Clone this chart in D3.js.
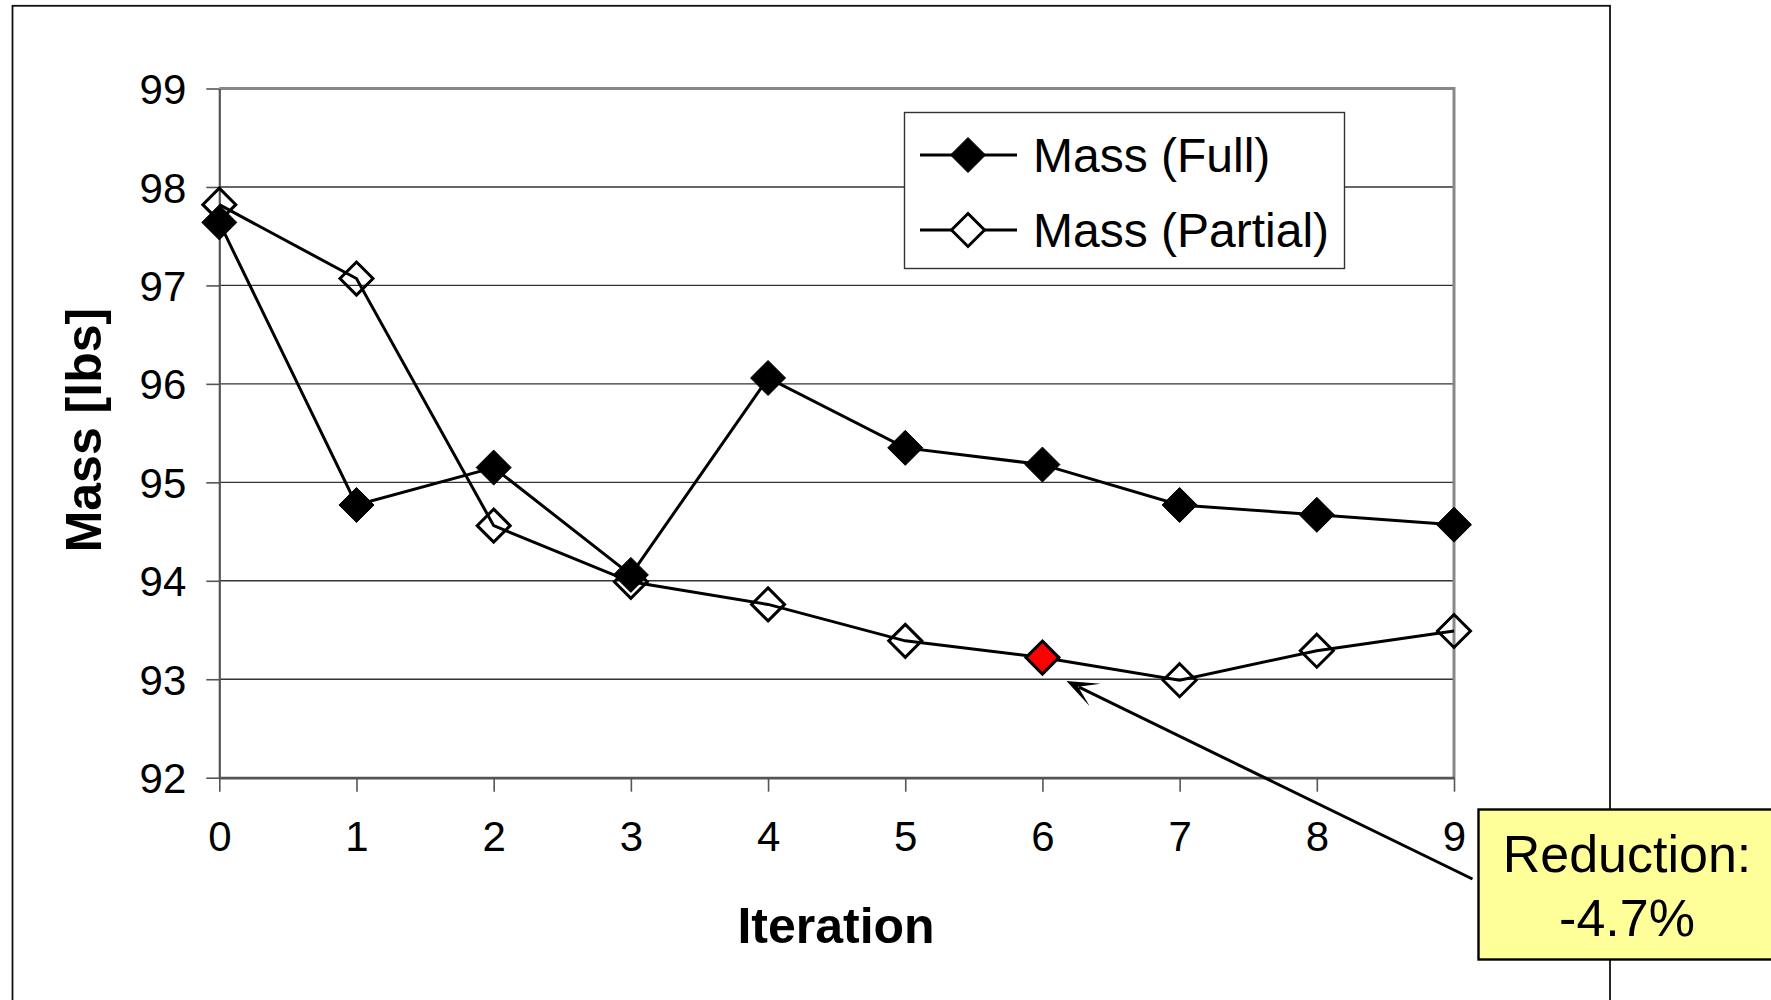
<!DOCTYPE html>
<html>
<head>
<meta charset="utf-8">
<script src="https://cdn.jsdelivr.net/npm/d3@7"></script>
<style>
  html, body { margin: 0; padding: 0; background: #fff; }
  svg { display: block; font-family: "Liberation Sans", Arial, sans-serif; }
</style>
</head>
<body>
<svg id="chart" width="1771" height="1000"></svg>
<script>
// ---- data ----
const iterations = [0, 1, 2, 3, 4, 5, 6, 7, 8, 9];
const massFull = [97.64, 94.77, 95.15, 94.06, 96.06, 95.35, 95.18, 94.77, 94.67, 94.57];
const massPartial = [97.82, 97.07, 94.56, 93.99, 93.76, 93.39, 93.22, 92.99, 93.29, 93.49];
const yTicks = [92, 93, 94, 95, 96, 97, 98, 99];
const seriesNames = ["Mass (Full)", "Mass (Partial)"];
const highlightIndex = 6;
const calloutLines = ["Reduction:", "-4.7%"];
const xTitle = "Iteration";
const yTitle = "Mass [lbs]";

// ---- layout ----
const svg = d3.select("#chart");
const plot = { left: 219.3, right: 1454, top: 88.5, bottom: 777.7 };
const x = d3.scaleLinear().domain([0, 9]).range([plot.left, plot.right]);
const y = d3.scaleLinear().domain([92, 99]).range([plot.bottom, plot.top]);
const FONT = '"Liberation Sans", Arial, sans-serif';

// outer frame (bottom edge off-canvas)
svg.append("rect").attr("x", 12.5).attr("y", 5.8).attr("width", 1597.5).attr("height", 1100)
  .attr("fill", "#fff").attr("stroke", "#111").attr("stroke-width", 1.8);

// gridlines
svg.append("g").selectAll("line").data(yTicks.filter(d => d !== 92 && d !== 99)).join("line")
  .attr("x1", plot.left).attr("x2", plot.right)
  .attr("y1", d => y(d)).attr("y2", d => y(d))
  .attr("stroke", "#333").attr("stroke-width", 1.4);

// plot top & right border (gray)
svg.append("path")
  .attr("d", `M${plot.left},${y(99)}H${plot.right}V${plot.bottom}`)
  .attr("fill", "none").attr("stroke", "#888").attr("stroke-width", 3);

// y axis
const yAxis = svg.append("g").attr("transform", `translate(${plot.left},0)`)
  .call(d3.axisLeft(y).tickValues(yTicks).tickSize(13).tickPadding(20).tickSizeOuter(0).tickFormat(d3.format("d")));
yAxis.select(".domain").attr("stroke", "#555").attr("stroke-width", 2.2);
yAxis.selectAll(".tick line").attr("stroke", "#555").attr("stroke-width", 1.6);
yAxis.selectAll(".tick text").attr("font-family", FONT).attr("font-size", 42).attr("fill", "#000")
  .attr("dy", "0.36em");

// x axis
const xAxis = svg.append("g").attr("transform", `translate(0,${plot.bottom})`)
  .call(d3.axisBottom(x).tickValues(iterations).tickSize(14).tickPadding(29).tickSizeOuter(0).tickFormat(d3.format("d")));
xAxis.select(".domain").attr("stroke", "#555").attr("stroke-width", 2.8);
xAxis.selectAll(".tick line").attr("stroke", "#555").attr("stroke-width", 1.6);
xAxis.selectAll(".tick text").attr("font-family", FONT).attr("font-size", 42).attr("fill", "#000")
  .attr("dy", "0.71em");

// axis titles
svg.append("text").attr("x", 836).attr("y", 943).attr("text-anchor", "middle")
  .attr("font-family", FONT).attr("font-weight", "bold").attr("font-size", 50).text(xTitle);
svg.append("text").attr("transform", `translate(101,${(plot.top + plot.bottom) / 2 - 3}) rotate(-90)`)
  .attr("text-anchor", "middle")
  .attr("font-family", FONT).attr("font-weight", "bold").attr("font-size", 50).text(yTitle);

// diamond path (rotated square)
const diamond = (half) => `M0,${-half}L${half},0L0,${half}L${-half},0Z`;

const line = d3.line().x((d, i) => x(iterations[i])).y(d => y(d));

// Full series
svg.append("path").datum(massFull).attr("d", line)
  .attr("fill", "none").attr("stroke", "#000").attr("stroke-width", 3);
// Partial series
svg.append("path").datum(massPartial).attr("d", line)
  .attr("fill", "none").attr("stroke", "#000").attr("stroke-width", 3);

// partial markers (open)
svg.append("g").selectAll("path").data(massPartial).join("path")
  .attr("transform", (d, i) => `translate(${x(iterations[i])},${y(d)})`)
  .attr("d", diamond(16.5))
  .attr("fill", (d, i) => i === highlightIndex ? "#ff0000" : "none")
  .attr("stroke", "#000").attr("stroke-width", 3);

// full markers (filled)
svg.append("g").selectAll("path").data(massFull).join("path")
  .attr("transform", (d, i) => `translate(${x(iterations[i])},${y(d)})`)
  .attr("d", diamond(17.5))
  .attr("fill", "#000").attr("stroke", "#000").attr("stroke-width", 1);

// legend
const lg = svg.append("g");
lg.append("rect").attr("x", 904.5).attr("y", 112.5).attr("width", 440).attr("height", 156)
  .attr("fill", "#fff").attr("stroke", "#333").attr("stroke-width", 1.4);
const legendRows = [155, 230];
seriesNames.forEach((name, i) => {
  const ly = legendRows[i];
  lg.append("line").attr("x1", 920).attr("x2", 1017).attr("y1", ly).attr("y2", ly)
    .attr("stroke", "#000").attr("stroke-width", 3);
  lg.append("path").attr("transform", `translate(968,${ly})`)
    .attr("d", diamond(i === 0 ? 17.5 : 16.5))
    .attr("fill", i === 0 ? "#000" : "#fff")
    .attr("stroke", "#000").attr("stroke-width", i === 0 ? 1 : 3);
  lg.append("text").attr("x", 1033).attr("y", ly + 17)
    .attr("font-family", FONT).attr("font-size", 48).attr("fill", "#000").text(name);
});

// callout box
const box = { left: 1478.5, top: 809.5, right: 1776, bottom: 959.5 };
svg.append("rect").attr("x", box.left).attr("y", box.top)
  .attr("width", box.right - box.left).attr("height", box.bottom - box.top)
  .attr("fill", "#ffff99").attr("stroke", "#000").attr("stroke-width", 2.4);
svg.append("text").attr("x", 1627).attr("y", 872).attr("text-anchor", "middle")
  .attr("font-family", FONT).attr("font-size", 52).text(calloutLines[0]);
svg.append("text").attr("x", 1627).attr("y", 936).attr("text-anchor", "middle")
  .attr("font-family", FONT).attr("font-size", 52).text(calloutLines[1]);

// arrow from callout to highlighted point
const tip = [x(iterations[highlightIndex]) + 24, y(massPartial[highlightIndex]) + 23.5];
const tail = [box.left - 6, 879];
const ang = Math.atan2(tail[1] - tip[1], tail[0] - tip[0]);
svg.append("line").attr("x1", tail[0]).attr("y1", tail[1])
  .attr("x2", tip[0] + 14 * Math.cos(ang)).attr("y2", tip[1] + 14 * Math.sin(ang))
  .attr("stroke", "#000").attr("stroke-width", 3);
// stealth arrowhead
const L = 32, W = 12.5, notch = 13;
const ca = Math.cos(ang), sa = Math.sin(ang);
const pt = (a, b) => [tip[0] + a * ca - b * sa, tip[1] + a * sa + b * ca];
const head = [pt(0, 0), pt(L, -W), pt(notch, 0), pt(L, W)];
svg.append("path").attr("d", "M" + head.map(p => p.join(",")).join("L") + "Z")
  .attr("fill", "#000");
</script>
</body>
</html>
